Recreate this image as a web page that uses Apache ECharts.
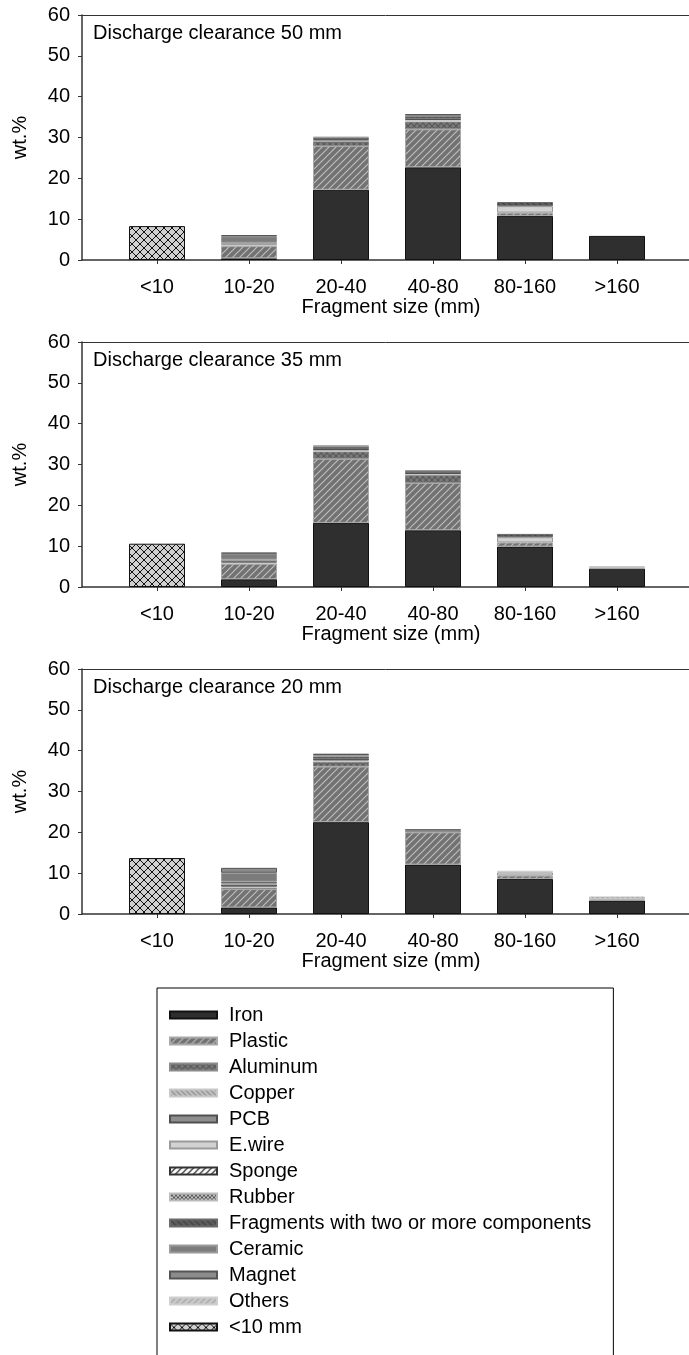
<!DOCTYPE html>
<html>
<head>
<meta charset="utf-8">
<script src="https://cdn.jsdelivr.net/npm/echarts@6/dist/echarts.min.js"></script>
<style>
  html, body { margin: 0; padding: 0; background: #fff; }
  #chart { width: 689px; height: 1355px; }
</style>
</head>
<body>
<div id="chart"></div>
<script>
// Fragment size classes (mm)
const categories = ['<10', '10-20', '20-40', '40-80', '80-160', '>160'];
const panelTitles = ['Discharge clearance 50 mm', 'Discharge clearance 35 mm', 'Discharge clearance 20 mm'];
const yTicks = [0, 10, 20, 30, 40, 50, 60];

// wt.% per size class; rows: clearance 50 mm, 35 mm, 20 mm
const iron = [
  [0, 0.4, 17.2, 22.7, 10.8, 5.9],
  [0, 1.9, 15.7, 13.9, 9.9, 4.5],
  [0, 1.6, 22.5, 12.1, 8.6, 3.3]
];
const plastic = [
  [0, 3.0, 10.7, 9.3, 0.8, 0],
  [0, 3.8, 15.7, 11.6, 1.0, 0.3],
  [0, 4.5, 13.6, 7.9, 0.8, 0.3]
];
const aluminum = [
  [0, 0, 1.2, 1.9, 0, 0],
  [0, 0, 1.8, 1.9, 0, 0],
  [0, 0.3, 1.2, 0.4, 0, 0]
];
const copper = [
  [0, 0.3, 0.2, 0.4, 0, 0],
  [0, 0.3, 0.3, 0.3, 0, 0.3],
  [0, 0.3, 0.3, 0, 0, 0.7]
];
const pcb = [
  [0, 0, 0.3, 0.3, 0, 0],
  [0, 0.3, 0.3, 0.2, 0, 0],
  [0, 0.5, 0.4, 0, 0, 0]
];
const eWire = [
  [0, 0.5, 0, 0, 1.6, 0],
  [0, 0.4, 0, 0, 1.3, 0],
  [0, 0.4, 0, 0, 0.8, 0]
];
const sponge = [
  [0, 0, 0, 0, 0, 0],
  [0, 0, 0, 0, 0, 0],
  [0, 0, 0, 0, 0, 0]
];
const rubber = [
  [0, 0, 0, 0, 0, 0],
  [0, 0, 0, 0, 0, 0],
  [0, 0, 0, 0, 0, 0]
];
const fragments = [
  [0, 0, 0.3, 0.6, 1.0, 0],
  [0, 0, 0.5, 0.5, 0.8, 0],
  [0, 0.3, 0.6, 0.4, 0, 0]
];
const ceramic = [
  [0, 1.6, 0.3, 0.3, 0, 0],
  [0, 1.5, 0.4, 0.2, 0, 0],
  [0, 2.2, 0.4, 0, 0, 0]
];
const magnet = [
  [0, 0.3, 0, 0.2, 0, 0],
  [0, 0.2, 0, 0, 0, 0],
  [0, 1.2, 0.2, 0, 0, 0]
];
const others = [
  [0, 0, 0, 0, 0, 0],
  [0, 0, 0, 0, 0, 0],
  [0, 0, 0, 0, 0.4, 0]
];
const under10 = [
  [8.3, 0, 0, 0, 0, 0],
  [10.6, 0, 0, 0, 0, 0],
  [13.7, 0, 0, 0, 0, 0]
];

const FONT = 'Liberation Sans, Arial, Helvetica, sans-serif';
const AXIS_COLOR = '#333';

// --- fill patterns drawn on small tiles ---
function tile(size, bg, draw) {
  const c = document.createElement('canvas');
  c.width = size; c.height = size;
  const g = c.getContext('2d');
  g.fillStyle = bg;
  g.fillRect(0, 0, size, size);
  draw(g, size);
  return { image: c, repeat: 'repeat' };
}
function fwd(g, s) { // "/" lines
  g.beginPath();
  g.moveTo(-1, s + 1); g.lineTo(s + 1, -1);
  g.moveTo(-1, 1); g.lineTo(1, -1);
  g.moveTo(s - 1, s + 1); g.lineTo(s + 1, s - 1);
  g.stroke();
}
function back(g, s) { // "\" lines
  g.beginPath();
  g.moveTo(-1, -1); g.lineTo(s + 1, s + 1);
  g.moveTo(s - 1, -1); g.lineTo(s + 1, 1);
  g.moveTo(-1, s - 1); g.lineTo(1, s + 1);
  g.stroke();
}
function stripes(size, bg, fg, width, dir) {
  return tile(size, bg, (g, s) => {
    g.strokeStyle = fg; g.lineWidth = width;
    if (dir === 'f') fwd(g, s); else back(g, s);
  });
}
function cross(size, bg, fg, width) {
  return tile(size, bg, (g, s) => {
    g.strokeStyle = fg; g.lineWidth = width;
    fwd(g, s); back(g, s);
  });
}

const materials = [
  { name: 'Iron', data: iron, color: '#2f2f2f', border: '#111' },
  { name: 'Plastic', data: plastic, color: stripes(7, '#727272', '#bdbdbd', 1.2, 'f'), border: '#a8a8a8' },
  { name: 'Aluminum', data: aluminum, color: cross(6, '#7a7a7a', '#595959', 1.2), border: '#8a8a8a' },
  { name: 'Copper', data: copper, color: stripes(5, '#c0c0c0', '#8c8c8c', 1.2, 'b'), border: '#c8c8c8' },
  { name: 'PCB', data: pcb, color: '#8e8e8e', border: '#505050' },
  { name: 'E.wire', data: eWire, color: '#d2d2d2', border: '#9a9a9a' },
  { name: 'Sponge', data: sponge, color: stripes(6, '#ffffff', '#111111', 1.2, 'f'), border: '#333' },
  { name: 'Rubber', data: rubber, color: cross(4, '#c4c4c4', '#4a4a4a', 0.9), border: '#bbbbbb' },
  { name: 'Fragments with two or more components', data: fragments, color: stripes(6, '#5c5c5c', '#404040', 1.2, 'b'), border: '#6a6a6a' },
  { name: 'Ceramic', data: ceramic, color: '#7c7c7c', border: '#9a9a9a' },
  { name: 'Magnet', data: magnet, color: '#8c8c8c', border: '#555555' },
  { name: 'Others', data: others, color: stripes(6, '#c8c8c8', '#a4a4a4', 1.2, 'f'), border: '#cfcfcf' },
  { name: '<10 mm', data: under10, color: cross(8, '#d0d0d0', '#111111', 1), border: '#111' }
];

const panelTops = [15, 342, 669];
const panelHeight = 245;
const nPanels = panelTops.length;

// grids 0..2 hold the bars (one 92 px band per size class);
// grids 3..5 draw the frame: value axis, bottom and top lines
const grids = [], xAxes = [], yAxes = [], titles = [], series = [];
const frameX = [], frameY = [];
panelTops.forEach((top, p) => {
  grids.push({ left: 111, right: 26, top: top, height: panelHeight });
  titles.push({
    text: panelTitles[p], left: 93, top: top + 8, padding: 0,
    textStyle: { fontFamily: FONT, fontSize: 20, fontWeight: 'normal', color: '#000' }
  });
  xAxes.push({
    type: 'category', gridIndex: p, data: categories,
    name: 'Fragment size (mm)', nameLocation: 'middle', nameGap: 37,
    nameTextStyle: { fontFamily: FONT, fontSize: 20, color: '#000', padding: [0, 0, 0, 8] },
    axisLine: { show: false },
    axisTick: { show: true, alignWithLabel: true, length: 4, lineStyle: { color: AXIS_COLOR } },
    axisLabel: { margin: 17, fontFamily: FONT, fontSize: 20, color: '#000' },
    splitLine: { show: false }
  });
  yAxes.push({
    type: 'value', gridIndex: p, min: yTicks[0], max: yTicks[yTicks.length - 1], interval: 10,
    show: false
  });
  series.push(...materials.map(m => ({
    name: m.name, type: 'bar', stack: 'panel' + p,
    xAxisIndex: p, yAxisIndex: p,
    barWidth: 56,
    data: m.data[p].map(v => (v > 0 ? v : '-')),
    itemStyle: { color: m.color, borderColor: m.border, borderWidth: 1 },
    emphasis: { disabled: true },
    animation: false
  })));
});
panelTops.forEach((top, p) => {
  const g = nPanels + p;
  grids.push({ left: 82, right: 0, top: top, height: panelHeight });
  frameX.push({
    type: 'value', gridIndex: g, min: 0, max: 1, position: 'bottom',
    axisLine: { show: true, onZero: false, lineStyle: { color: AXIS_COLOR, width: 1.5 } },
    axisTick: { show: false }, axisLabel: { show: false }, splitLine: { show: false }
  });
  frameX.push({
    type: 'value', gridIndex: g, min: 0, max: 1, position: 'top',
    axisLine: { show: true, onZero: false, lineStyle: { color: AXIS_COLOR, width: 1 } },
    axisTick: { show: false }, axisLabel: { show: false }, splitLine: { show: false }
  });
  frameY.push({
    type: 'value', gridIndex: g, min: yTicks[0], max: yTicks[yTicks.length - 1], interval: 10,
    name: 'wt.%', nameLocation: 'middle', nameGap: 52, nameRotate: 90,
    nameTextStyle: { fontFamily: FONT, fontSize: 20, color: '#000' },
    axisLine: { show: true, onZero: false, lineStyle: { color: AXIS_COLOR, width: 1.5 } },
    axisTick: { show: true, length: 4, lineStyle: { color: AXIS_COLOR } },
    axisLabel: { margin: 12, fontFamily: FONT, fontSize: 20, color: '#000' },
    splitLine: { show: false }
  });
});

const chart = echarts.init(document.getElementById('chart'));
chart.setOption({
  animation: false,
  backgroundColor: '#fff',
  textStyle: { fontFamily: FONT },
  title: titles,
  grid: grids,
  xAxis: xAxes.concat(frameX),
  yAxis: yAxes.concat(frameY),
  legend: {
    data: materials.map(m => m.name),
    orient: 'vertical', left: 157, top: 988, height: 360,
    padding: [17, 22, 40, 12],
    borderColor: '#000', borderWidth: 1,
    icon: 'rect', itemWidth: 47, itemHeight: 7, itemGap: 6,
    selectedMode: false,
    textStyle: { fontFamily: FONT, fontSize: 20, lineHeight: 20, color: '#000', padding: [0, 0, 0, 7] }
  },
  series: series
});
</script>
</body>
</html>
